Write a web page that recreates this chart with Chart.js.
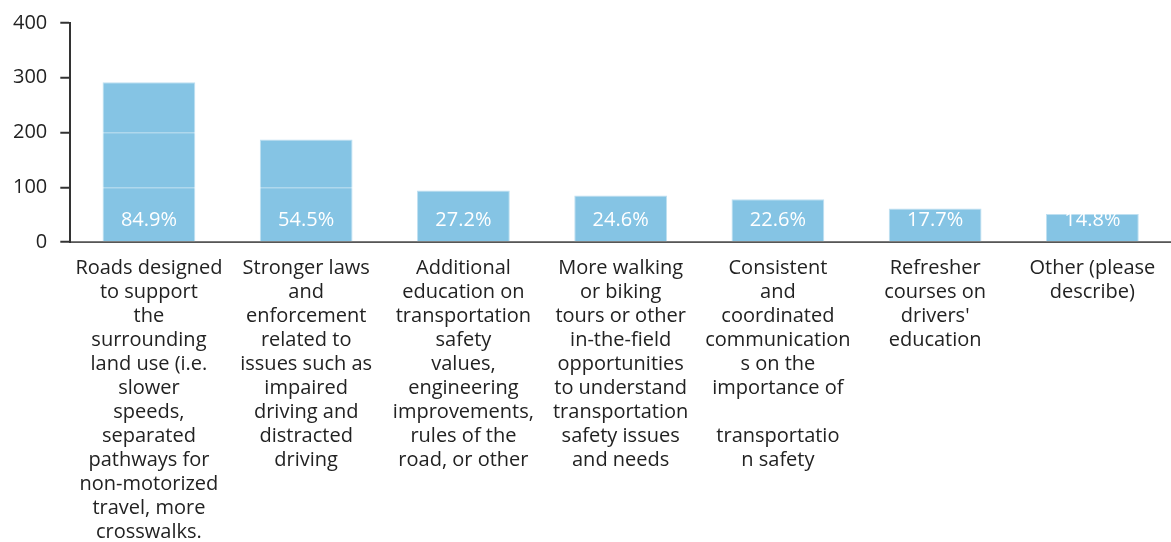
<!DOCTYPE html>
<html>
<head>
<meta charset="utf-8">
<script src="https://cdn.jsdelivr.net/npm/chart.js@4"></script>
<style>
html,body{margin:0;padding:0;background:#fff;}
#wrap{width:1171px;height:542px;position:relative;}
</style>
</head>
<body>
<div id="wrap"><canvas id="c" width="1171" height="542"></canvas></div>
<script>
const categories = [
  ["Roads designed","to support","the","surrounding","land use (i.e.","slower","speeds,","separated","pathways for","non-motorized","travel, more","crosswalks."],
  ["Stronger laws","and","enforcement","related to","issues such as","impaired","driving and","distracted","driving"],
  ["Additional","education on","transportation","safety","values,","engineering","improvements,","rules of the","road, or other"],
  ["More walking","or biking","tours or other","in-the-field","opportunities","to understand","transportation","safety issues","and needs"],
  ["Consistent","and","coordinated","communication","s on the","importance of","","transportatio","n safety"],
  ["Refresher","courses on","drivers'","education"],
  ["Other (please","describe)"]
];
const counts = [292, 187, 94, 85, 78, 61, 51];
const percentLabels = ["84.9%", "54.5%", "27.2%", "24.6%", "22.6%", "17.7%", "14.8%"];
const yTicks = [0, 100, 200, 300, 400];

const FONT = "'Open Sans', 'Noto Sans', sans-serif";

const barLabelPlugin = {
  id: 'barLabels',
  afterDatasetsDraw(chart) {
    const ctx = chart.ctx;
    const meta = chart.getDatasetMeta(0);
    ctx.save();
    ctx.font = "20px " + FONT;
    ctx.fillStyle = "#ffffff";
    ctx.textAlign = "center";
    ctx.textBaseline = "middle";
    meta.data.forEach((bar, i) => {
      ctx.fillText(percentLabels[i], bar.x, bar.base - 21);
    });
    ctx.restore();
  }
};

new Chart(document.getElementById('c'), {
  type: 'bar',
  data: {
    labels: categories,
    datasets: [{
      data: counts,
      backgroundColor: '#85C4E4',
      borderColor: '#BFE0F1',
      borderWidth: 1,
      barPercentage: 0.59,
      categoryPercentage: 1.0
    }]
  },
  options: {
    responsive: false,
    animation: false,
    devicePixelRatio: 1,
    layout: { padding: { left: 0, right: 0, top: 0, bottom: 0 } },
    plugins: { legend: { display: false }, tooltip: { enabled: false } },
    scales: {
      x: {
        grid: { display: false, drawTicks: false },
        border: { display: true, color: '#333', width: 2 },
        afterFit(axis) { axis.height = 300; },
        ticks: {
          autoSkip: false, maxRotation: 0, minRotation: 0,
          color: '#222', padding: 14,
          font: { family: FONT, size: 20, lineHeight: 1.2 }
        }
      },
      y: {
        min: 0, max: 400,
        afterBuildTicks(axis) { axis.ticks = yTicks.map(v => ({ value: v })); },
        grid: { z: 1, color: 'rgba(255,255,255,0.35)', lineWidth: 1.5, tickColor: '#333', tickLength: 10, tickWidth: 2 },
        border: { display: true, color: '#333', width: 2, z: 2 },
        ticks: {
          color: '#222', padding: 13,
          font: { family: FONT, size: 20, lineHeight: 1.0 }
        }
      }
    }
  },
  plugins: [barLabelPlugin]
});
</script>
</body>
</html>
